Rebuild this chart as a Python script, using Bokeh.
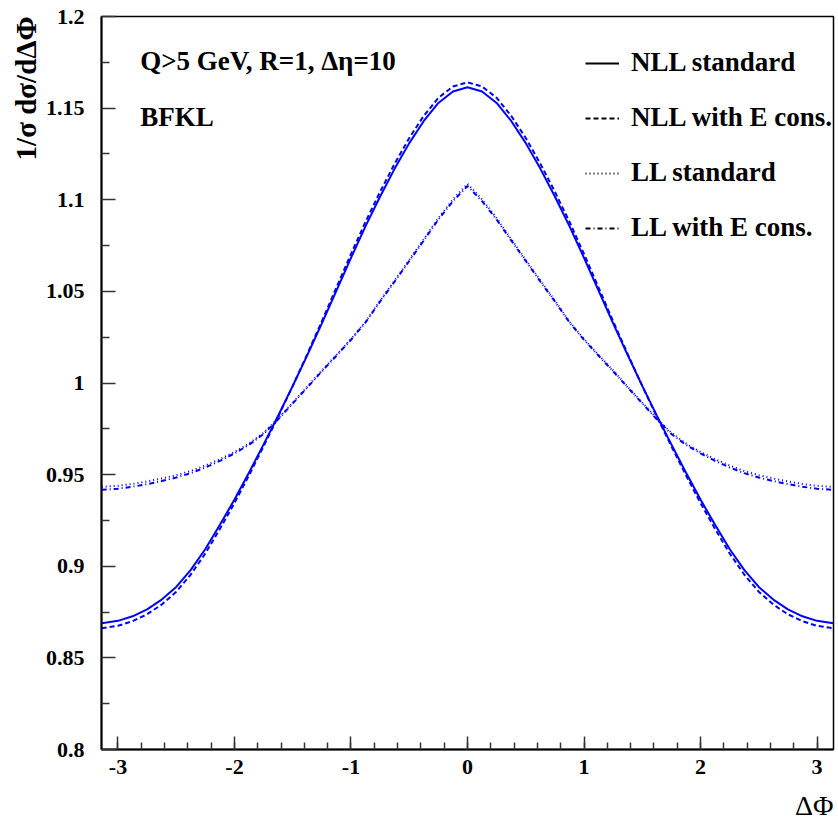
import numpy as np
from bokeh.plotting import figure
from bokeh.models import (Range1d, FixedTicker, CustomJSTickFormatter, Label,
                          Legend, LegendItem, Title)
from bokeh.embed import file_html
from bokeh.resources import INLINE

# ---------------- data ----------------
dphi = [-3.14, -3.0, -2.875, -2.75, -2.625, -2.5, -2.375, -2.25, -2.125, -2.0,
        -1.875, -1.75, -1.625, -1.5, -1.375, -1.25, -1.125, -1.0, -0.875, -0.75,
        -0.625, -0.5, -0.375, -0.25, -0.125, 0.0,
        0.125, 0.25, 0.375, 0.5, 0.625, 0.75, 0.875, 1.0, 1.125, 1.25, 1.375, 1.5,
        1.625, 1.75, 1.875, 2.0, 2.125, 2.25, 2.375, 2.5, 2.625, 2.75, 2.875, 3.0, 3.14]

nll_standard = [0.8689, 0.8702, 0.8727, 0.8765, 0.8818, 0.8887, 0.8980, 0.9094, 0.9226, 0.9364,
                0.9512, 0.9665, 0.9822, 0.9984, 1.0152, 1.0325, 1.0504, 1.0683, 1.0856, 1.1018,
                1.1170, 1.1309, 1.1430, 1.1528, 1.1591, 1.1614,
                1.1591, 1.1528, 1.1430, 1.1309, 1.1170, 1.1018, 1.0856, 1.0683, 1.0504, 1.0325,
                1.0152, 0.9984, 0.9822, 0.9665, 0.9512, 0.9364, 0.9226, 0.9094, 0.8980, 0.8887,
                0.8818, 0.8765, 0.8727, 0.8702, 0.8689]

nll_econs = [0.8662, 0.8675, 0.8700, 0.8738, 0.8791, 0.8861, 0.8955, 0.9070, 0.9204, 0.9345,
             0.9497, 0.9655, 0.9817, 0.9984, 1.0158, 1.0337, 1.0521, 1.0704, 1.0880, 1.1044,
             1.1197, 1.1337, 1.1458, 1.1556, 1.1618, 1.1641,
             1.1618, 1.1556, 1.1458, 1.1337, 1.1197, 1.1044, 1.0880, 1.0704, 1.0521, 1.0337,
             1.0158, 0.9984, 0.9817, 0.9655, 0.9497, 0.9345, 0.9204, 0.9070, 0.8955, 0.8861,
             0.8791, 0.8738, 0.8700, 0.8675, 0.8662]

ll_standard = [0.9433, 0.9439, 0.9449, 0.9463, 0.9479, 0.9497, 0.9520, 0.9550, 0.9584, 0.9624,
               0.9670, 0.9728, 0.9807, 0.9893, 0.9980, 1.0068, 1.0153, 1.0240, 1.0335, 1.0450,
               1.0560, 1.0672, 1.0785, 1.0900, 1.1002, 1.1087,
               1.1002, 1.0900, 1.0785, 1.0672, 1.0560, 1.0450, 1.0335, 1.0240, 1.0153, 1.0068,
               0.9980, 0.9893, 0.9807, 0.9728, 0.9670, 0.9624, 0.9584, 0.9550, 0.9520, 0.9497,
               0.9479, 0.9463, 0.9449, 0.9439, 0.9433]

ll_econs = [0.9417, 0.9423, 0.9434, 0.9448, 0.9465, 0.9484, 0.9508, 0.9539, 0.9575, 0.9616,
            0.9663, 0.9722, 0.9802, 0.9889, 0.9976, 1.0064, 1.0149, 1.0236, 1.0331, 1.0445,
            1.0554, 1.0666, 1.0778, 1.0892, 1.0992, 1.1075,
            1.0992, 1.0892, 1.0778, 1.0666, 1.0554, 1.0445, 1.0331, 1.0236, 1.0149, 1.0064,
            0.9976, 0.9889, 0.9802, 0.9722, 0.9663, 0.9616, 0.9575, 0.9539, 0.9508, 0.9484,
            0.9465, 0.9448, 0.9434, 0.9423, 0.9417]

series_labels = ["NLL standard", "NLL with E cons.", "LL standard", "LL with E cons."]

x_tick_values = [-3, -2, -1, 0, 1, 2, 3]
x_tick_labels = ["-3", "-2", "-1", "0", "1", "2", "3"]
y_tick_values = [0.8, 0.85, 0.9, 0.95, 1.0, 1.05, 1.1, 1.15, 1.2]
y_tick_labels = ["0.8", "0.85", "0.9", "0.95", "1", "1.05", "1.1", "1.15", "1.2"]

x_title = "ΔΦ"
y_title = "1/σ dσ/dΔΦ"
note_1 = "Q>5 GeV, R=1, Δη=10"
note_2 = "BFKL"

# ---------------- figure ----------------
FONT = "Liberation Serif"
BLUE = "#0000ff"

p = figure(width=836, height=833,
           x_range=Range1d(-np.pi, np.pi), y_range=Range1d(0.8, 1.2),
           output_backend="svg", toolbar_location=None,
           min_border_left=101, min_border_right=3,
           min_border_top=16, min_border_bottom=84)

p.xgrid.visible = False
p.ygrid.visible = False
p.background_fill_color = "white"
p.border_fill_color = "white"
p.outline_line_color = "black"
p.outline_line_width = 1.5

x_minor = [round(v, 2) for v in np.arange(-3.0, 3.01, 0.2)]
y_minor = [round(v, 3) for v in np.arange(0.825, 1.2, 0.05)]

fmt_code = """
for (let i = 0; i < vals.length; i++) {
  if (Math.abs(vals[i] - tick) < 1e-6) { return labs[i]; }
}
return "";
"""

xa = p.xaxis[0]
xa.ticker = FixedTicker(ticks=x_tick_values, minor_ticks=x_minor)
xa.formatter = CustomJSTickFormatter(args=dict(vals=x_tick_values, labs=x_tick_labels), code=fmt_code)
ya = p.yaxis[0]
ya.ticker = FixedTicker(ticks=y_tick_values, minor_ticks=y_minor)
ya.formatter = CustomJSTickFormatter(args=dict(vals=y_tick_values, labs=y_tick_labels), code=fmt_code)

for ax, tin, min_in, standoff in ((xa, 13, 7, 10), (ya, 14, 8, 17)):
    ax.axis_line_color = "black"
    ax.axis_line_width = 2
    ax.major_tick_in = tin
    ax.major_tick_out = 0
    ax.minor_tick_in = min_in
    ax.minor_tick_out = 0
    ax.major_tick_line_color = "#333333"
    ax.major_tick_line_width = 1.5
    ax.minor_tick_line_color = "#333333"
    ax.minor_tick_line_width = 1.5
    ax.major_label_text_font = FONT
    ax.major_label_text_font_style = "bold"
    ax.major_label_text_font_size = "22px"
    ax.major_label_text_color = "black"
    ax.major_label_standoff = standoff

# curves
dash_styles = ["solid", "5 3", "1 3", "5 3 1 3"]
series = [nll_standard, nll_econs, ll_standard, ll_econs]
for ys, dash in zip(series, dash_styles):
    p.line(dphi, ys, line_color=BLUE, line_width=2, line_dash=dash)

# legend (black samples, dummy renderers draw nothing in the plot)
items = []
for lab, dash in zip(series_labels, dash_styles):
    r = p.line(x=[np.nan], y=[np.nan], line_color="black", line_width=2, line_dash=dash)
    items.append(LegendItem(label=lab, renderers=[r]))

legend = Legend(items=items, location=(484, 506))
legend.border_line_color = None
legend.background_fill_alpha = 0
legend.padding = 0
legend.margin = 0
legend.spacing = 24
legend.glyph_width = 34
legend.glyph_height = 30
legend.label_height = 30
legend.label_standoff = 12
legend.label_text_font = FONT
legend.label_text_font_style = "bold"
legend.label_text_font_size = "27px"
legend.label_text_color = "black"
p.add_layout(legend)

# texts inside the frame
p.add_layout(Label(x=-2.81, y=1.1755, text=note_1, text_font=FONT, text_font_style="bold",
                   text_font_size="27px", text_baseline="middle", text_color="black"))
p.add_layout(Label(x=-2.81, y=1.145, text=note_2, text_font=FONT, text_font_style="bold",
                   text_font_size="27px", text_baseline="middle", text_color="black"))

# axis titles (as side titles so they can sit at the ends)
p.add_layout(Title(text=x_title, align="right", text_font=FONT, text_font_style="normal",
                   text_font_size="28px", text_color="black", standoff=23), "below")
p.add_layout(Title(text=y_title, align="right", text_font=FONT, text_font_style="bold",
                   text_font_size="29px", text_color="black", standoff=1), "left")

open("out.html", "w").write(file_html(p, INLINE))
